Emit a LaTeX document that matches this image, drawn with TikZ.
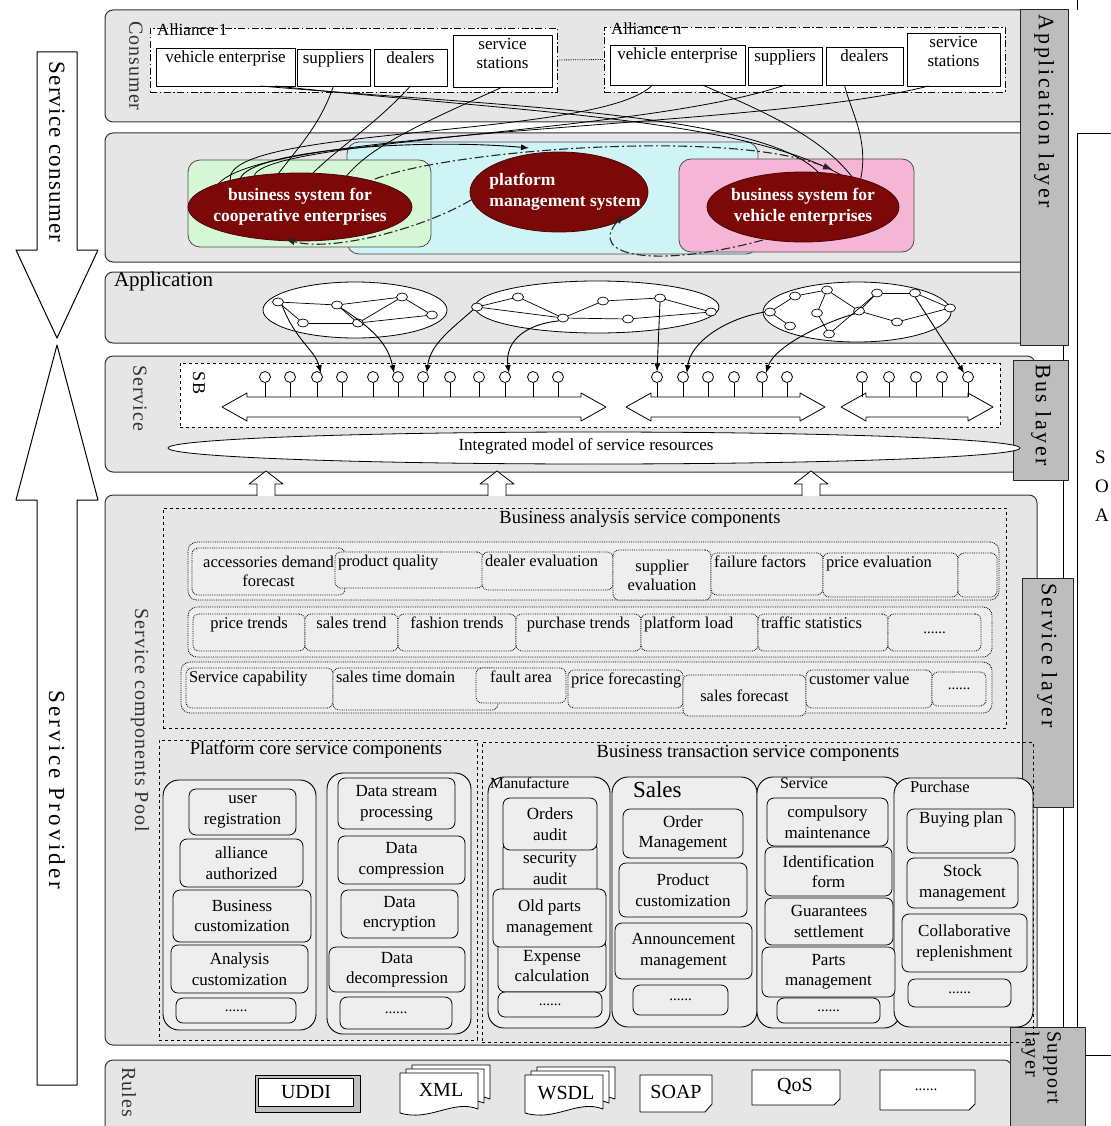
\documentclass[tikz,border=0pt]{standalone}
\usepackage{fontspec}
\setmainfont{Liberation Serif}
\usetikzlibrary{arrows.meta,shapes.geometric,calc}

\definecolor{panelg}{HTML}{E6E6E6}
\definecolor{layerg}{HTML}{BDBDBD}
\definecolor{itemg}{HTML}{EEEEEE}
\definecolor{lgreen}{HTML}{D6F7D6}
\definecolor{lcyan}{HTML}{CFF4F6}
\definecolor{lpink}{HTML}{F5B6D6}
\definecolor{dred}{HTML}{7C0808}

\newcommand\fItem{\fontsize{17}{20.5}\selectfont}
\newcommand\fRow{\fontsize{16.5}{19}\selectfont}
\newcommand\fTitle{\fontsize{18.5}{22}\selectfont}
\newcommand\fAl{\fontsize{17}{19.5}\selectfont}
\newcommand\fEl{\fontsize{17.5}{21}\selectfont\bfseries}
\newcommand\fDots{\fontsize{15}{16}\selectfont}
\newcommand\fRule{\fontsize{20}{22}\selectfont}
\newcommand\fPan{\fontsize{20}{22}\selectfont\addfontfeature{LetterSpace=5}}
\newcommand\fLay{\fontsize{22}{24}\selectfont\addfontfeature{LetterSpace=12}}

\newcommand\mkbox[7]{\node[#6,minimum width={(#4-#2)*1pt},minimum height={(#5-#3)*1pt}] (#1) at ({(#2+#4)/2},{(#3+#5)/2}) {#7};}
\newcommand\mkboxT[8]{\mkbox{#1}{#2}{#3}{#4}{#5}{#6}{}\node[#8] (#1t) at (#1.north) {#7};}
\newcommand\mkboxTL[8]{\mkbox{#1}{#2}{#3}{#4}{#5}{#6}{}\node[#8] (#1t) at (#1.north west) {#7};}
\newcommand\docshape[4]{\draw[fill=white,line width=0.8pt] (#1,#2) -- (#3,#2) -- (#3,{#4-4}) .. controls ({#3-25},{#4-14}) and ({#1+30},{#4+9}) .. (#1,#4) -- cycle;}
\newcommand\busarrow[2]{\draw[fill=white,line width=0.8pt] (#1,407) -- ({#1+25},393) -- ({#1+25},397) -- ({#2-25},397) -- ({#2-25},393) -- (#2,407) -- ({#2-25},421) -- ({#2-25},417) -- ({#1+25},417) -- ({#1+25},421) -- cycle;}
\newcommand\uparr[1]{\draw[fill=white,line width=0.8pt] ({#1-9},496) -- ({#1-9},484) -- ({#1-17},484) -- (#1,471) -- ({#1+17},484) -- ({#1+9},484) -- ({#1+9},496);}

\begin{document}
\begin{tikzpicture}[x=1pt,y=-1pt,line join=round,
  every node/.style={inner sep=1pt,outer sep=0pt},
  panel/.style={draw=black!80,rounded corners=8pt,fill=panelg,line width=1pt},
  layerbox/.style={draw=black!85,fill=layerg,line width=1pt},
  wbox/.style={draw,fill=white,line width=0.8pt},
  alli/.style={draw,fill=white,line width=0.8pt,dash pattern=on 7pt off 2.5pt on 1.5pt off 2.5pt},
  sysbox/.style={draw=black!70,rounded corners=12pt,line width=0.8pt},
  sysell/.style={ellipse,draw=dred!60!black,fill=dred,line width=0.8pt},
  seltxt/.style={text=white,font=\fEl,align=center},
  item/.style={draw,rounded corners=7pt,fill=itemg,align=center,font=\fItem,line width=0.8pt},
  ditem/.style={draw,densely dotted,rounded corners=6pt,fill=itemg,line width=0.8pt},
  drow/.style={draw,densely dotted,rounded corners=9pt,fill=itemg,line width=0.8pt},
  grpbox/.style={draw,dashed,line width=0.8pt},
  colbox/.style={draw,rounded corners=16pt,fill=itemg,line width=0.9pt},
  rotl/.style={rotate=-90},
  lol/.style={circle,draw,fill=white,minimum size=11pt,inner sep=0pt,line width=0.8pt},
  gn/.style={ellipse,draw,fill=white,minimum width=11pt,minimum height=8pt,inner sep=0pt,line width=0.7pt},
  netel/.style={ellipse,draw,fill=white,line width=0.8pt,inner sep=0pt},
  conn/.style={line width=0.8pt},
  arr/.style={line width=0.9pt,-{Latex[length=8pt,width=6pt]}},
  dd/.style={line width=1.1pt,draw=black!85,dash pattern=on 9pt off 3pt on 2pt off 3pt,-{Latex[length=10pt,width=7pt]}},
  rowtxt/.style={anchor=north,font=\fRow,inner sep=2pt,yshift=-1pt},
  rowtxtl/.style={anchor=north west,font=\fRow,inner sep=2pt,xshift=1pt,yshift=-1pt},
  altxt/.style={anchor=north,font=\fAl,inner sep=3pt,align=center},
  dots/.style={font=\fDots}]
\useasboundingbox (0,0) rectangle (1110,1126);

% ---------------- left big arrows
\draw[fill=white,line width=1pt] (37,52) -- (77,52) -- (77,250) -- (98,250) -- (57,338) -- (16,250) -- (37,250) -- cycle;
\node[rotl,font=\fontsize{23}{26}\selectfont\addfontfeature{LetterSpace=5}] (scons) at (57,152) {Service consumer};
\draw[fill=white,line width=1pt] (57,345) -- (98,500) -- (77,500) -- (77,1085) -- (37,1085) -- (37,500) -- (16,500) -- cycle;
\node[rotl,font=\fontsize{23}{26}\selectfont\addfontfeature{LetterSpace=14}] (sprov) at (57,790) {Service Provider};

% ---------------- panels
\mkbox{p1}{105}{10}{1032}{122}{panel}{}
\mkbox{p2}{105}{133}{1035}{262}{panel}{}
\mkbox{p3}{105}{272}{1035}{343}{panel}{}
\mkbox{p4}{105}{356}{1035}{472}{panel}{}
\mkbox{p5}{105}{495}{1037}{1045}{panel}{}
\mkbox{p6}{105}{1060}{1012}{1140}{panel}{}

% ---------------- right side frame and layer boxes
\draw[line width=0.9pt] (1063,345) -- (1063,1027);
\draw[line width=0.9pt] (1077,0) -- (1077,10);
\draw[line width=0.9pt] (1115,133) -- (1077,133) -- (1077,1055);
\draw[line width=0.9pt] (1085,1055) -- (1115,1055);
\node[align=left,anchor=north west,font=\fontsize{19}{29}\selectfont] (soa) at (1094,450) {S\\O\\A};

\mkbox{lapp}{1020}{10}{1068}{345}{layerbox}{}
\node[rotl,anchor=west,font=\fLay] (lappt) at (1044,14) {Application layer};
\mkbox{lbus}{1013}{360}{1068}{480}{layerbox}{}
\node[rotl,anchor=west,font=\fLay] (lbust) at (1041,363) {Bus layer};
\mkbox{lsrv}{1022}{578}{1073}{807}{layerbox}{}
\node[rotl,anchor=west,font=\fLay] (lsrvt) at (1047,582) {Service layer};
\mkbox{lsup}{1010}{1027}{1085}{1130}{layerbox}{}
\node[rotl,anchor=west,align=left,font=\fontsize{20}{22}\selectfont\addfontfeature{LetterSpace=8}] (lsupt) at (1041,1030) {Support\\layer};

% ---------------- consumer panel
\node[rotl,font=\fPan,text=black!80] (consl) at (136,66) {Consumer};
\mkbox{al1}{150}{28}{557}{92}{alli}{}
\node[anchor=west,font=\fAl] (al1t) at (156,30) {Alliance 1};
\mkboxT{ve1}{156}{48}{295}{86}{wbox}{vehicle enterprise}{altxt}
\mkboxT{su1}{297}{49}{370}{86}{wbox}{suppliers}{altxt}
\mkboxT{de1}{374}{49}{447}{86}{wbox}{dealers}{altxt}
\mkboxT{ss1}{453}{35}{552}{87}{wbox}{service\\stations}{altxt}
\mkbox{aln}{604}{27}{1005}{92}{alli}{}
\node[anchor=west,font=\fAl] (alnt) at (610,29) {Alliance n};
\mkboxT{ven}{610}{45}{745}{85}{wbox}{vehicle enterprise}{altxt}
\mkboxT{sun}{748}{47}{822}{85}{wbox}{suppliers}{altxt}
\mkboxT{den}{826}{47}{903}{85}{wbox}{dealers}{altxt}
\mkboxT{ssn}{907}{33}{1000}{86}{wbox}{service\\stations}{altxt}
\draw[densely dotted,line width=0.8pt] (al1.east) -- (aln.west);

% ---------------- systems panel
\mkbox{cyanb}{347}{142}{758}{254}{sysbox,fill=lcyan}{}
\mkbox{greenb}{188}{160}{431}{247}{sysbox,fill=lgreen}{}
\mkbox{pinkb}{679}{159}{914}{252}{sysbox,fill=lpink}{}

\draw[conn] ($(ve1.south)+(35,0)$) .. controls (480,105) and (760,112) .. (818,172);
\draw[conn] ($(ve1.south)+(50,0)$) .. controls (520,112) and (740,118) .. (843,176);
\draw[conn] (su1.south) .. controls (320,125) and (300,145) .. (275,178);
\draw[conn] (de1.south) .. controls (375,125) and (335,150) .. (310,176);
\draw[conn] (ss1.south) .. controls (430,120) and (370,145) .. (345,178);
\draw[conn] ($(ven.south)+(-25,0)$) .. controls (600,140) and (200,125) .. (232,185);
\draw[conn] (sun.south) .. controls (640,135) and (230,140) .. (255,181);
\draw[conn] ($(ssn.south)+(-25,0)$) .. controls (760,130) and (230,128) .. (215,190);
\draw[conn] ($(ven.south)+(25,0)$) .. controls (760,110) and (820,135) .. (853,178);
\draw[conn] ($(den.south)+(-20,0)$) .. controls (850,110) and (870,140) .. (860,182);

\node[sysell,minimum width=224pt,minimum height=68pt] (e1) at (300,207) {};
\node[seltxt] (e1t) at (e1) {business system for\\cooperative enterprises};
\node[sysell,minimum width=178pt,minimum height=80pt] (e2) at (559,192) {};
\node[seltxt,align=left] (e2t) at (565,192) {platform\\management system};
\node[sysell,minimum width=192pt,minimum height=70pt] (e3) at (803,207) {};
\node[seltxt] (e3t) at (e3) {business system for\\vehicle enterprises};

\draw[arr] ($(e1)+(-60,-28)$) .. controls (250,150) and (420,138) .. ($(e2)+(-30,-44)$);
\draw[dd] ($(e1)+(75,-28)$) .. controls (450,150) and (730,128) .. ($(e3)+(30,-37)$);
\draw[dd] ($(e2)+(-88,8)$) .. controls (420,230) and (330,252) .. ($(e1)+(-15,32)$);
\draw[dd] ($(e3)+(-40,33)$) .. controls (660,268) and (585,258) .. ($(e2)+(65,22)$);

% ---------------- application panel (networks)
\node[anchor=west,font=\fontsize{21}{23}\selectfont] (appl) at (113,281) {Application};
\node[netel,minimum width=184pt,minimum height=56pt] (net1) at (355,310) {};
\node[netel,minimum width=244pt,minimum height=52pt] (net2) at (597,307) {};
\node[netel,minimum width=188pt,minimum height=60pt] (net3) at (857,312) {};

\node[gn] (a1) at (278,302) {};
\node[gn] (a2) at (303,323) {};
\node[gn] (a3) at (337,305) {};
\node[gn] (a4) at (358,323) {};
\node[gn] (a5) at (402,297) {};
\node[gn] (a6) at (432,315) {};
\foreach \u/\v in {a1/a3,a1/a2,a2/a4,a3/a4,a3/a5,a4/a5,a5/a6,a4/a6} \draw[line width=0.7pt] (\u) -- (\v);

\node[gn] (b1) at (477,307) {};
\node[gn] (b2) at (518,297) {};
\node[gn] (b3) at (563,318) {};
\node[gn] (b4) at (603,301) {};
\node[gn] (b5) at (628,319) {};
\node[gn] (b6) at (660,298) {};
\node[gn] (b7) at (711,312) {};
\foreach \u/\v in {b1/b2,b1/b3,b2/b3,b3/b4,b4/b6,b3/b5,b5/b7,b6/b7} \draw[line width=0.7pt] (\u) -- (\v);

\node[gn] (c1) at (770,312) {};
\node[gn] (c2) at (795,296) {};
\node[gn] (c3) at (827,290) {};
\node[gn] (c4) at (817,313) {};
\node[gn] (c5) at (790,326) {};
\node[gn] (c6) at (829,334) {};
\node[gn] (c7) at (859,311) {};
\node[gn] (c8) at (877,293) {};
\node[gn] (c9) at (915,293) {};
\node[gn] (c10) at (897,322) {};
\node[gn] (c11) at (950,308) {};
\foreach \u/\v in {c1/c2,c2/c3,c3/c4,c4/c6,c1/c5,c3/c7,c7/c8,c8/c9,c9/c11,c7/c10,c10/c11,c6/c8} \draw[line width=0.7pt] (\u) -- (\v);

% ---------------- service panel (bus)
\node[rotl,font=\fPan,text=black!80] (servl) at (140,398) {Service};
\mkbox{sb}{180}{363}{1000}{427}{grpbox,fill=white}{}
\node[rotl,font=\fontsize{18}{20}\selectfont] (sbl) at (199,383) {SB};
\busarrow{222}{606}
\busarrow{626}{825}
\busarrow{841}{993}
\foreach \x [count=\i] in {265,290,317,342,373,398,423,450,479,505,533,558} {\node[lol] (l\i) at (\x,377) {}; \draw[line width=0.8pt] (l\i.south) -- ++(0,14.5);}
\foreach \x [count=\i] in {657,683,708,734,762,787} {\node[lol] (m\i) at (\x,377) {}; \draw[line width=0.8pt] (m\i.south) -- ++(0,14.5);}
\foreach \x [count=\i] in {862,889,916,942,968} {\node[lol] (n\i) at (\x,377) {}; \draw[line width=0.8pt] (n\i.south) -- ++(0,14.5);}
\node[netel,minimum width=852pt,minimum height=32pt] (intm) at (594,448) {};
\node[font=\fontsize{17}{19}\selectfont] (intmt) at (586,446) {Integrated model of service resources};

\draw[arr] (a1.south east) .. controls (295,340) and (315,350) .. (l3.north east);
\draw[arr] (a3.south east) .. controls (375,330) and (388,345) .. (l6.north west);
\draw[arr] (b1.south west) .. controls (450,330) and (430,345) .. (l7.north east);
\draw[arr] (b3.south west) .. controls (520,325) and (505,345) .. (l10.north east);
\draw[arr] (b6.south) -- (m1.north);
\draw[arr] (c1.west) .. controls (720,320) and (690,345) .. (m2.north east);
\draw[arr] (c7.south west) .. controls (830,320) and (775,345) .. (m5.north east);
\draw[arr] (c9.south) -- (n5.north west);

\uparr{266}
\uparr{497}
\uparr{811}

% ---------------- service components pool
\node[rotl,font=\fPan,text=black!80] (poolt) at (140,720) {Service components Pool};
\mkbox{ba}{163}{508}{1006}{728}{grpbox}{}
\node[font=\fTitle] (bat) at (640,519) {Business analysis service components};
\mkbox{r1}{188}{542}{999}{600}{drow}{}
\mkbox{r2}{188}{607}{992}{657}{drow}{}
\mkbox{r3}{181}{662}{992}{713}{drow}{}

\mkbox{i11}{192}{548}{345}{595}{ditem,align=center,font=\fRow}{accessories demand\\forecast}
\mkboxTL{i12}{335}{552}{483}{588}{ditem}{product quality}{rowtxtl}
\mkboxTL{i13}{482}{552}{613}{590}{ditem}{dealer evaluation}{rowtxtl}
\mkbox{i14}{613}{550}{711}{600}{ditem,align=center,font=\fRow}{supplier\\evaluation}
\mkboxTL{i15}{711}{553}{823}{595}{ditem}{failure factors}{rowtxtl}
\mkboxTL{i16}{823}{553}{958}{597}{ditem}{price evaluation}{rowtxtl}
\mkbox{i17}{958}{553}{997}{597}{ditem}{}

\mkboxT{i21}{193}{614}{305}{651}{ditem}{price trends}{rowtxt}
\mkboxT{i22}{305}{614}{398}{651}{ditem}{sales trend}{rowtxt}
\mkboxT{i23}{398}{614}{516}{651}{ditem}{fashion trends}{rowtxt}
\mkboxT{i24}{516}{614}{641}{651}{ditem}{purchase trends}{rowtxt}
\mkboxTL{i25}{641}{614}{758}{651}{ditem}{platform load}{rowtxtl}
\mkboxTL{i26}{758}{614}{888}{651}{ditem}{traffic statistics}{rowtxtl}
\mkbox{i27}{888}{614}{981}{651}{ditem,dots}{......}

\mkboxTL{i31}{186}{668}{333}{708}{ditem}{Service capability}{rowtxtl}
\mkboxTL{i32}{333}{668}{498}{710}{ditem}{sales time domain}{rowtxtl}
\mkboxT{i33}{476}{668}{566}{703}{ditem}{fault area}{rowtxt}
\mkboxTL{i34}{568}{670}{683}{708}{ditem}{price forecasting}{rowtxtl}
\mkbox{i35}{683}{675}{806}{716}{ditem,font=\fRow}{sales forecast}
\mkboxTL{i36}{806}{670}{932}{708}{ditem}{customer value}{rowtxtl}
\mkbox{i37}{932}{672}{986}{706}{ditem,dots}{......}

% platform core
\mkbox{pc}{159}{740}{477}{1040}{grpbox}{}
\node[font=\fTitle] (pct) at (316,750) {Platform core service components};
\mkbox{pcl}{163}{780}{316}{1030}{colbox}{}
\mkbox{pcr}{327}{773}{471}{1034}{colbox}{}
\mkbox{u1}{189}{789}{296}{835}{item}{user\\registration}
\mkbox{u2}{180}{839}{303}{887}{item}{alliance\\authorized}
\mkbox{u3}{173}{890}{311}{942}{item}{Business\\customization}
\mkbox{u4}{171}{945}{308}{993}{item}{Analysis\\customization}
\mkbox{u5}{176}{998}{296}{1023}{item,dots}{......}
\mkbox{d1}{338}{778}{455}{829}{item}{Data stream\\processing}
\mkbox{d2}{338}{836}{465}{884}{item}{Data\\compression}
\mkbox{d3}{341}{890}{458}{938}{item}{Data\\encryption}
\mkbox{d4}{329}{947}{465}{992}{item}{Data\\decompression}
\mkbox{d5}{340}{997}{452}{1029}{item,dots}{......}

% business transaction
\mkbox{bt}{482}{742}{1033}{1042}{grpbox}{}
\node[font=\fTitle] (btt) at (748,753) {Business transaction service components};
\mkbox{mc}{488}{777}{610}{1028}{colbox}{}
\mkbox{sc}{612}{777}{757}{1027}{colbox}{}
\mkbox{vc}{757}{777}{900}{1028}{colbox}{}
\mkbox{pcol}{894}{778}{1033}{1027}{colbox}{}
\node[anchor=west,font=\fontsize{15.5}{17}\selectfont] (mct) at (489,783) {Manufacture};
\node[anchor=west,font=\fontsize{23}{25}\selectfont] (sct) at (632,790) {Sales};
\node[anchor=west,font=\fontsize{16}{18}\selectfont] (vct) at (779,783) {Service};
\node[anchor=west,font=\fontsize{16.5}{18}\selectfont] (pcolt) at (909,787) {Purchase};

\mkbox{m2b}{503}{845}{597}{892}{item,rounded corners=3pt}{security\\audit}
\mkbox{m4b}{498}{940}{606}{992}{item}{Expense\\calculation}
\mkbox{m1b}{503}{798}{597}{850}{item}{Orders\\audit}
\mkbox{m3b}{493}{889}{606}{947}{item}{Old parts\\management}
\mkbox{m5b}{498}{992}{602}{1017}{item,dots}{......}

\mkbox{s1}{623}{809}{743}{858}{item}{Order\\Management}
\mkbox{s2}{619}{863}{747}{917}{item}{Product\\customization}
\mkbox{s3}{615}{923}{752}{979}{item}{Announcement\\management}
\mkbox{s4}{633}{985}{728}{1015}{item,dots}{......}

\mkbox{v1}{767}{798}{888}{846}{item}{compulsory\\maintenance}
\mkbox{v2}{765}{847}{892}{896}{item}{Identification\\form}
\mkbox{v3}{765}{898}{893}{945}{item}{Guarantees\\settlement}
\mkbox{v4}{762}{947}{895}{997}{item}{Parts\\management}
\mkbox{v5}{777}{998}{880}{1023}{item,dots}{......}

\mkboxT{q1}{907}{809}{1015}{853}{item}{Buying plan}{anchor=north,font=\fItem,inner sep=3pt}
\mkbox{q2}{907}{858}{1018}{908}{item}{Stock\\management}
\mkbox{q3}{902}{914}{1027}{972}{item}{Collaborative\\replenishment}
\mkbox{q4}{908}{979}{1011}{1007}{item,dots}{......}

% ---------------- rules panel
\node[rotl,font=\fPan,text=black!80] (rulest) at (129,1092) {Rules};
\node[draw,fill=gray!50,minimum width=105pt,minimum height=37pt,line width=0.8pt] (uddio) at (307.5,1093.5) {};
\node[draw,fill=white,minimum width=95pt,minimum height=28pt,line width=0.6pt,font=\fRule] (uddi) at (306,1092.5) {UDDI};
\docshape{412}{1065}{490}{1103}
\docshape{406}{1069}{484}{1107}
\docshape{400}{1073}{478}{1113}
\node[font=\fRule] (xml) at (441,1090) {XML};
\docshape{537}{1067}{615}{1103}
\docshape{531}{1071}{609}{1107}
\docshape{525}{1075}{603}{1113}
\node[font=\fRule] (wsdl) at (566,1093) {WSDL};
\draw[fill=white,line width=0.8pt] (640,1075) -- (712,1075) -- (712,1104) -- (705,1112) -- (640,1112) -- cycle;
\node[font=\fRule] (soap) at (676,1092) {SOAP};
\draw[fill=white,line width=0.8pt] (752,1070) -- (840,1070) -- (840,1099) -- (834,1105) -- (752,1105) -- cycle;
\node[font=\fRule] (qos) at (795,1086) {QoS};
\draw[fill=white,line width=0.8pt] (880,1070) -- (975,1070) -- (975,1104) -- (969,1110) -- (880,1110) -- cycle;
\node[dots] (rdots) at (926,1090) {......};
\end{tikzpicture}
\end{document}
